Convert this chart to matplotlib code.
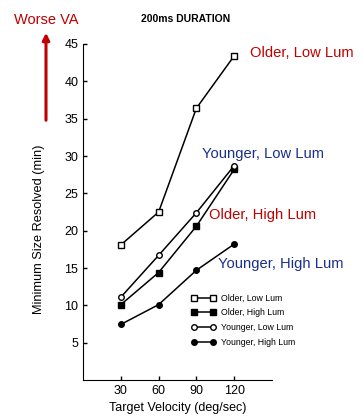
import numpy as np
import matplotlib.pyplot as plt

plt.rcParams['font.family'] = ['Liberation Sans', 'DejaVu Sans']

# data
velocity = [30, 60, 90, 120]
older_low = [18.1, 22.5, 36.4, 43.4]
older_high = [10.1, 14.4, 20.6, 28.2]
younger_low = [11.1, 16.7, 22.4, 28.7]
younger_high = [7.45, 10.1, 14.7, 18.2]

fig = plt.figure(figsize=(3.63, 4.19), dpi=100)
ax = fig.add_axes([0.229, 0.093, 0.52, 0.802])

ms = 4
ax.plot(velocity, older_low, 'k-', marker='s', mfc='white', ms=ms, lw=1.1, label='Older, Low Lum')
ax.plot(velocity, older_high, 'k-', marker='s', mfc='black', ms=ms, lw=1.1, label='Older, High Lum')
ax.plot(velocity, younger_low, 'k-', marker='o', mfc='white', ms=ms, lw=1.1, label='Younger, Low Lum')
ax.plot(velocity, younger_high, 'k-', marker='o', mfc='black', ms=ms, lw=1.1, label='Younger, High Lum')

ax.set_xlim(0, 150)
ax.set_ylim(0, 45)
ax.set_xticks(velocity)
ax.set_yticks([5, 10, 15, 20, 25, 30, 35, 40, 45])
ax.spines['top'].set_visible(False)
ax.spines['right'].set_visible(False)
ax.tick_params(direction='in', length=3, labelsize=9, width=1)
ax.set_xlabel('Target Velocity (deg/sec)', fontsize=9)
ax.set_ylabel('Minimum Size Resolved (min)', fontsize=9.2)
ax.yaxis.set_label_coords(-0.20, 0.45)

leg = ax.legend(loc='upper left', bbox_to_anchor=(0.55, 0.27), frameon=False,
                fontsize=6.3, numpoints=2, handlelength=2.8, handletextpad=0.6,
                labelspacing=0.65, borderpad=0)

fig.text(0.51, 0.955, '200ms DURATION', ha='center', va='center', fontsize=7.5, fontweight='bold')
fig.text(0.127, 0.952, 'Worse VA', ha='center', va='center', fontsize=10.5, color='#c00000')
ax.annotate('', xy=(46, 389), xycoords='figure pixels', xytext=(46, 296),
            textcoords='figure pixels',
            arrowprops=dict(arrowstyle='-|>', color='#c00000', lw=2.2, mutation_scale=10))

fig.text(0.689, 0.873, 'Older, Low Lum', ha='left', va='center', fontsize=10.6, color='#c00000')
fig.text(0.556, 0.632, 'Younger, Low Lum', ha='left', va='center', fontsize=10.6, color='#1a2f8a')
fig.text(0.576, 0.487, 'Older, High Lum', ha='left', va='center', fontsize=10.6, color='#c00000')
fig.text(0.600, 0.370, 'Younger, High Lum', ha='left', va='center', fontsize=10.6, color='#1a2f8a')

fig.savefig('out.png', dpi=100)
